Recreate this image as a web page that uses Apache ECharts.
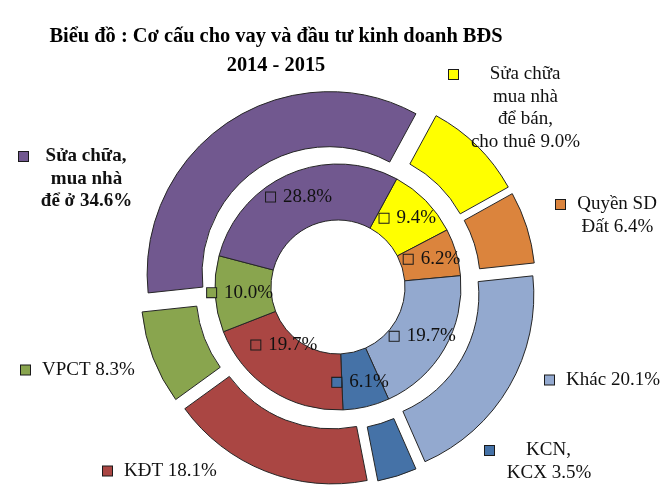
<!DOCTYPE html>
<html><head><meta charset="utf-8">
<script src="https://cdn.jsdelivr.net/npm/echarts@6/dist/echarts.min.js"></script>
<style>html,body{margin:0;padding:0;background:#fff}#c{width:665px;height:496px}</style>
</head><body><div id="c"></div>
<script>
// ---- data ----
const titleLines = ['Biểu đồ : Cơ cấu cho vay và đầu tư kinh doanh BĐS', '2014 - 2015'];
const outerNameLines = [
  ['Sửa chữa', 'mua nhà', 'để bán,', 'cho thuê'],
  ['Quyền SD', 'Đất'],
  ['Khác'],
  ['KCN,', 'KCX'],
  ['KĐT'],
  ['VPCT'],
  ['Sửa chữa,', 'mua nhà', 'để ở']
];
const outerValues = [9.0, 6.4, 20.1, 3.5, 18.1, 8.3, 34.6];
const innerValues = [9.4, 6.2, 19.7, 6.1, 19.7, 10.0, 28.8];
const colors = ['#FFFF00', '#DB843D', '#93A9CF', '#4572A7', '#AA4643', '#89A54E', '#71588F'];
const boldLabel = [false, false, false, false, false, false, true];

// ---- label placement (top-left of each outer label block) ----
const outerLabelPos = [[448, 65], [555, 195], [544, 370.5], [484, 441], [102, 461.5], [20, 360.5], [18, 147]];
const innerLabelShift = [0, 0, 0, 0, -24, 0, 0];

const START_ANGLE = 61.5;   // echarts degrees (counter-clockwise from 3 o'clock)
const EXPLODE = 16;
const LH = 22.5;

const FONT = 'Liberation Serif';
const FS = 19;
const ctx = document.createElement('canvas').getContext('2d');
function textW(s, bold) { ctx.font = (bold ? 'bold ' : '') + FS + 'px "' + FONT + '"'; return ctx.measureText(s).width; }

// offset of each exploded slice (labels move with it)
const outerTotal = outerValues.reduce(function (a, b) { return a + b; }, 0);
const explodeShift = (function () {
  let cum = 0;
  return outerValues.map(function (v) {
    const midDeg = START_ANGLE - (cum + v / 2) / outerTotal * 360;
    cum += v;
    const r = midDeg * Math.PI / 180;
    return [EXPLODE * Math.cos(r), -EXPLODE * Math.sin(r)];
  });
})();

const outerData = outerValues.map(function (v, i) {
  const lines = outerNameLines[i].slice();
  lines[lines.length - 1] = lines[lines.length - 1] + ' ' + v.toFixed(1) + '%';
  const W = Math.ceil(Math.max.apply(null, lines.map(function (l) { return textW(l, boldLabel[i]); }))) + 2;
  const fmt = lines.map(function (l, k) { return (k === 0 ? '{sq|}{g|}' : '{p|}') + '{t|' + l + '}'; }).join('\n');
  return {
    value: v,
    name: lines.join(' '),
    selected: true,
    itemStyle: { color: colors[i] },
    label: {
      formatter: fmt,
      rich: {
        sq: { width: 9, height: 9, backgroundColor: colors[i], borderColor: '#1a1a1a', borderWidth: 1, lineHeight: LH },
        g: { width: 11, lineHeight: LH },
        p: { width: 21, lineHeight: LH },
        t: { width: W, align: 'center', fontSize: FS, fontFamily: FONT, color: '#111', lineHeight: LH, fontWeight: boldLabel[i] ? 'bold' : 'normal' }
      }
    }
  };
});

const innerData = innerValues.map(function (v, i) {
  return {
    value: v,
    name: 'inner' + i,
    itemStyle: { color: colors[i] },
    label: {
      formatter: '{sq|}{g|}{t|' + v.toFixed(1) + '%}',
      rich: {
        sq: { width: 9, height: 9, backgroundColor: colors[i], borderColor: '#1a1a1a', borderWidth: 1 },
        g: { width: 8 },
        t: { fontSize: FS, fontFamily: FONT, color: '#111' }
      }
    }
  };
});

const chart = echarts.init(document.getElementById('c'), null, { renderer: 'canvas' });
chart.setOption({
  animation: false,
  backgroundColor: '#fff',
  title: {
    text: titleLines.join('\n'),
    left: 276, top: 22, textAlign: 'center', padding: 0,
    textStyle: { fontFamily: FONT, fontSize: 20.4, fontWeight: 'bold', lineHeight: 29, color: '#000' }
  },
  series: [
    {
      type: 'pie', name: 'outer',
      center: [338, 287], radius: [127, 182],
      startAngle: START_ANGLE, clockwise: true,
      selectedMode: 'multiple', selectedOffset: EXPLODE,
      avoidLabelOverlap: false,
      itemStyle: { borderColor: '#262626', borderWidth: 1 },
      select: { itemStyle: { borderColor: '#262626', borderWidth: 1 } },
      emphasis: { disabled: true },
      label: { show: true, position: 'inside' },
      labelLine: { show: false },
      labelLayout: function (p) {
        const pos = outerLabelPos[p.dataIndex];
        const sh = explodeShift[p.dataIndex];
        return { dx: pos[0] - p.labelRect.x - sh[0], dy: pos[1] - p.labelRect.y - sh[1] };
      },
      data: outerData
    },
    {
      type: 'pie', name: 'inner',
      center: [338, 287], radius: [67, 123],
      startAngle: START_ANGLE, clockwise: true,
      avoidLabelOverlap: false,
      itemStyle: { borderColor: '#262626', borderWidth: 1 },
      emphasis: { disabled: true },
      label: { show: true, position: 'inside' },
      labelLine: { show: false },
      labelLayout: function (p) { return { dy: innerLabelShift[p.dataIndex] }; },
      data: innerData
    }
  ]
});
</script>
</body></html>
